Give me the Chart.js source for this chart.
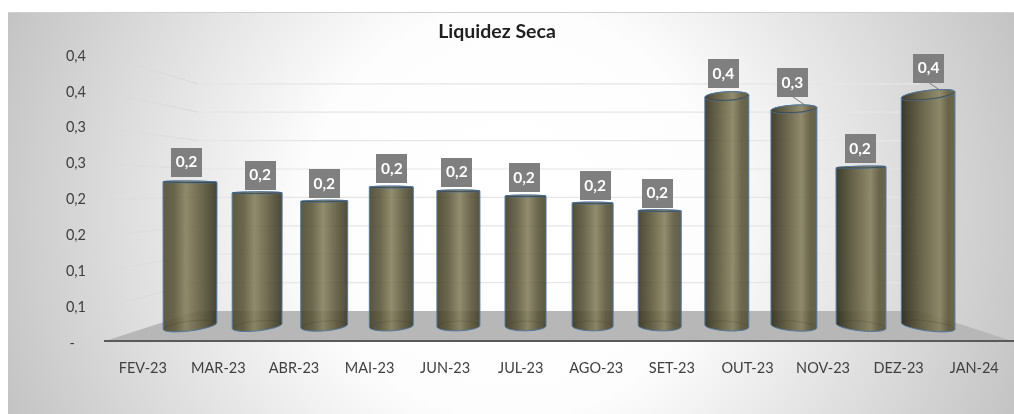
<!DOCTYPE html>
<html>
<head>
<meta charset="utf-8">
<title>Liquidez Seca</title>
<script src="https://cdn.jsdelivr.net/npm/chart.js@4"></script>
<style>
html, body { margin: 0; padding: 0; background: #fff; }
#wrap { width: 1014px; height: 414px; }
</style>
</head>
<body>
<div id="wrap"><canvas id="grafica" width="1014" height="414"></canvas></div>
<script>
var titulo = 'Liquidez Seca';
var categorias = ['FEV-23', 'MAR-23', 'ABR-23', 'MAI-23', 'JUN-23', 'JUL-23', 'AGO-23', 'SET-23', 'OUT-23', 'NOV-23', 'DEZ-23', 'JAN-24'];
var valores = [0.225, 0.208, 0.195, 0.217, 0.211, 0.203, 0.192, 0.18, 0.359, 0.339, 0.248, 0.361];
var rotulos = ['0,2', '0,2', '0,2', '0,2', '0,2', '0,2', '0,2', '0,2', '0,4', '0,3', '0,2', '0,4'];
var ticksY = ['-\u00a0\u00a0\u00a0', '0,1', '0,1', '0,2', '0,2', '0,3', '0,3', '0,4', '0,4'];

// perspective look, not data
var largurasBarra = [54, 50, 47, 44, 43, 41, 41, 43, 44, 46, 50, 54];
var rotuloDx = [-3.5, 3, 0, 0.5, -1.5, -1.5, 2.5, -2.5, -3.5, -1.5, -1, 0.5];
var rotuloDy = [-19.5, -17.5, -17.5, -18.5, -18.5, -18.5, -17.5, -17.5, -22.5, -26.5, -18.5, -26.5];
var comGuia = [9, 11];

var corFonte = '#404040';
var olho = 190;
var alfaCorpo = 0.88;

function lerp(a, b, t) { return a + (b - a) * t; }

var fundo = {
    id: 'fundo',
    beforeDraw: function (chart) {
        var ctx = chart.ctx, area = chart.chartArea, y = chart.scales.y;
        var chao = area.bottom - 2;
        var g = ctx.createRadialGradient(511, 213, 60, 511, 213, 545);
        g.addColorStop(0, '#ffffff');
        g.addColorStop(0.3, '#fdfdfd');
        g.addColorStop(1, '#c3c3c3');
        ctx.save();
        ctx.fillStyle = g;
        ctx.fillRect(8, 12, 1006, 402);
        ctx.fillStyle = '#cfcfcf';
        ctx.fillRect(8, 12, 1006, 1);

        // floor
        var fundoY = 311, esq = 198, dir = 920;
        ctx.fillStyle = '#b7b7b7';
        ctx.beginPath();
        ctx.moveTo(area.left, chao);
        ctx.lineTo(area.right, chao);
        ctx.lineTo(dir, fundoY);
        ctx.lineTo(esq, fundoY);
        ctx.closePath();
        ctx.fill();

        // wall gridlines
        ctx.lineWidth = 1.2;
        for (var i = 1; i < ticksY.length; i++) {
            var frente = y.getPixelForValue(i * 0.05);
            var tras = fundoY - i * 28.4;
            var lg = ctx.createLinearGradient(area.left, 0, esq, 0);
            lg.addColorStop(0, 'rgba(205,205,205,0)');
            lg.addColorStop(1, 'rgba(205,205,205,0.5)');
            ctx.strokeStyle = lg;
            ctx.beginPath();
            ctx.moveTo(area.left, frente);
            ctx.lineTo(esq, tras);
            ctx.stroke();
            ctx.strokeStyle = '#e6e6e6';
            ctx.beginPath();
            ctx.moveTo(esq, tras);
            ctx.lineTo(dir, tras);
            ctx.stroke();
        }

        // axis line
        ctx.fillStyle = '#5a5a5a';
        ctx.fillRect(area.left - 1, chao - 1, area.right - area.left + 3, 2);

        // title
        ctx.fillStyle = '#1f1f1f';
        ctx.font = 'bold 19.5px Lato';
        ctx.textAlign = 'center';
        ctx.textBaseline = 'middle';
        ctx.fillText(titulo, 497, 32);
        ctx.restore();
    }
};

function corpo(ctx, x, topo, base, rx, ryT, ryB, tT, tB) {
    ctx.beginPath();
    ctx.moveTo(x - rx * Math.cos(tT), topo - rx * Math.sin(tT));
    ctx.lineTo(x - rx * Math.cos(tB), base - rx * Math.sin(tB));
    ctx.ellipse(x, base, rx, ryB, tB, Math.PI, 0, true);
    ctx.lineTo(x + rx * Math.cos(tT), topo + rx * Math.sin(tT));
    ctx.ellipse(x, topo, rx, ryT, tT, 0, Math.PI, true);
    ctx.closePath();
}

// colour as it should look over white, undone for the given alpha
function tom(r, g, b, alfa) {
    var f = function (c) { return Math.max(0, Math.round((c - (1 - alfa) * 255) / alfa)); };
    return 'rgba(' + f(r) + ',' + f(g) + ',' + f(b) + ',' + alfa + ')';
}

function gradiente(ctx, x, rx, i, alfa) {
    var g = ctx.createLinearGradient(x - rx, 0, x + rx, 0);
    var t = i / 11;
    var luz = 0.42 + i * 0.027;
    g.addColorStop(0, tom(lerp(98, 62, t), lerp(95, 60, t), lerp(72, 47, t), alfa));
    g.addColorStop(luz * 0.5, tom(108, 104, 78, alfa));
    g.addColorStop(luz, tom(146, 141, 110, alfa));
    g.addColorStop(lerp(luz, 1, 0.55), tom(108, 104, 78, alfa));
    g.addColorStop(1, tom(lerp(72, 112, t), lerp(70, 108, t), lerp(54, 84, t), alfa));
    return g;
}

var cilindros = {
    id: 'cilindros',
    afterDatasetsDraw: function (chart) {
        var ctx = chart.ctx;
        var barras = chart.getDatasetMeta(0).data;
        ctx.save();
        barras.forEach(function (el, i) {
            var x = el.x, topo = el.y, base = el.base;
            var rx = largurasBarra[i] / 2;
            var ryT = Math.max(1, Math.abs(topo - olho) * 0.048);
            var ryB = Math.abs(base - olho) * 0.036;
            var tT = 3.3e-6 * (x - 559) * (topo - olho);
            var tB = 2.5e-6 * (x - 559) * (base - olho);

            corpo(ctx, x, topo, base, rx, ryT, ryB, tT, tB);
            ctx.fillStyle = gradiente(ctx, x, rx, i, alfaCorpo);
            ctx.fill();
            ctx.strokeStyle = '#54779c';
            ctx.lineWidth = 1;
            ctx.stroke();

            // back edge of the base, seen through the bar
            ctx.strokeStyle = 'rgba(50,50,35,0.2)';
            ctx.beginPath();
            ctx.ellipse(x, base, rx - 1, ryB, tB, Math.PI, 0, false);
            ctx.stroke();

            // top cap
            ctx.beginPath();
            ctx.ellipse(x, topo, rx, ryT, tT, 0, Math.PI * 2);
            ctx.fillStyle = gradiente(ctx, x, rx, i, 1);
            ctx.fill();
            ctx.strokeStyle = '#54779c';
            ctx.stroke();
            ctx.strokeStyle = 'rgba(40,40,28,0.5)';
            ctx.beginPath();
            ctx.ellipse(x, topo, rx - 1, Math.max(ryT - 0.5, 0.5), tT, 0, Math.PI, false);
            ctx.stroke();
        });

        // value labels
        ctx.font = 'bold 15.5px Lato';
        ctx.textAlign = 'center';
        ctx.textBaseline = 'middle';
        barras.forEach(function (el, i) {
            var cx = el.x + rotuloDx[i], cy = el.y + rotuloDy[i];
            if (comGuia.indexOf(i) >= 0) {
                ctx.strokeStyle = '#7a7a7a';
                ctx.lineWidth = 1;
                ctx.beginPath();
                ctx.moveTo(cx, cy + 14);
                ctx.lineTo(cx + 14, el.y - 3);
                ctx.stroke();
            }
            ctx.fillStyle = '#7f7f7f';
            ctx.fillRect(Math.round(cx - 15.5), Math.round(cy - 14.5), 31, 29);
            ctx.fillStyle = '#ffffff';
            ctx.fillText(rotulos[i], cx, cy);
        });
        ctx.restore();
    }
};

var puntos = valores.map(function (v, i) { return { x: i, y: v }; });

new Chart(document.getElementById('grafica').getContext('2d'), {
    type: 'bar',
    data: {
        labels: categorias,
        datasets: [{
            label: titulo,
            data: puntos,
            xAxisID: 'xBarras',
            yAxisID: 'yBarras',
            barThickness: 44,
            backgroundColor: 'rgba(0,0,0,0)',
            borderWidth: 0
        }]
    },
    plugins: [fundo, cilindros],
    options: {
        responsive: false,
        animation: false,
        layout: { padding: { left: 0, right: 2, top: 56, bottom: 0 } },
        plugins: {
            legend: { display: false },
            tooltip: { enabled: false },
            title: { display: false }
        },
        scales: {
            x: {
                type: 'category',
                labels: categorias,
                offset: true,
                position: 'bottom',
                grid: { display: false },
                border: { display: false },
                ticks: { color: corFonte, font: { family: 'Lato', size: 14.5 }, padding: 9, maxRotation: 0, autoSkip: false },
                afterFit: function (s) { s.height = 71; }
            },
            xBarras: {
                type: 'linear',
                display: false,
                position: 'bottom',
                offset: false,
                min: -1.267,
                max: 12.25,
                grid: { display: false }
            },
            y: {
                type: 'linear',
                position: 'left',
                min: 0,
                max: 0.4,
                grid: { display: false },
                border: { display: false },
                ticks: {
                    stepSize: 0.05,
                    color: corFonte,
                    font: { family: 'Lato', size: 14.5 },
                    padding: 11,
                    callback: function (v, i) { return ticksY[i]; }
                },
                afterFit: function (s) { s.width = 105; }
            },
            yBarras: {
                type: 'linear',
                display: false,
                position: 'left',
                min: -0.0266,
                max: 0.4219,
                grid: { display: false }
            }
        }
    }
});
</script>
</body>
</html>
